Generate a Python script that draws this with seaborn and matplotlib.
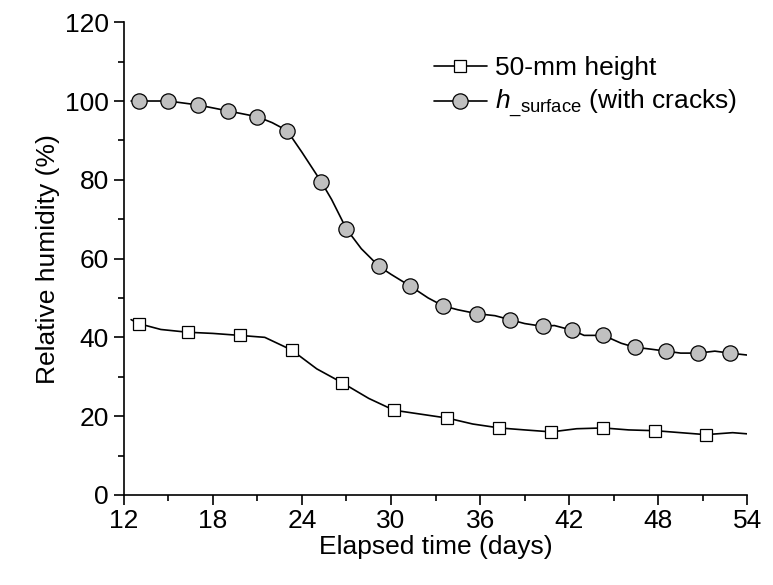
import matplotlib
matplotlib.use("Agg")
import matplotlib.pyplot as plt
import seaborn as sns
import pandas as pd

# ── Data ───────────────────────────────────────────────────────────────────────
sq_days = [12.5, 13, 14.5, 16.3, 18, 19.8, 21.5, 23.3, 25, 26.7, 28.5, 30.2, 32, 33.8,
           35.5, 37.3, 39, 40.8, 42.5, 44.3, 46, 47.8, 49.5, 51.2, 53, 54]
sq_rh = [44.5, 43.5, 42, 41.3, 41, 40.5, 40, 36.8, 32, 28.5, 24.5, 21.5, 20.5, 19.5,
         18, 17, 16.5, 16, 16.8, 17, 16.5, 16.3, 15.8, 15.3, 15.8, 15.5]
sq_mark_idx = [1, 3, 5, 7, 9, 11, 13, 15, 17, 19, 21, 23]

ci_days = [12.5, 13, 15, 17, 19, 21, 22, 23, 24, 25.3, 26, 27, 28, 29.2, 30, 31.3, 32.5,
           33.5, 34.5, 35.8, 37, 38, 39, 40.2, 41, 42.2, 43, 44.3, 45.5, 46.4, 47.5,
           48.5, 49.5, 50.7, 51.8, 52.8, 54]
ci_rh = [100, 100, 100, 99, 97.5, 96, 94.5, 92.5, 87, 79.5, 75, 67.5, 62.5, 58, 56,
         53, 50, 48, 47, 46, 45.5, 44.5, 43.5, 42.8, 43, 41.8, 40.5, 40.5, 38.5, 37.5,
         37, 36.5, 36, 36, 36.5, 36, 35.5]
ci_mark_idx = [1, 2, 3, 4, 5, 7, 9, 11, 13, 15, 17, 19, 21, 23, 25, 27, 29, 31, 33, 35]

x_ticks = [12, 18, 24, 30, 36, 42, 48, 54]
y_ticks = [0, 20, 40, 60, 80, 100, 120]

sns.set_theme(style="ticks")
plt.rcParams['font.family'] = ['Liberation Sans', 'DejaVu Sans']
plt.rcParams['mathtext.fontset'] = 'custom'
plt.rcParams['mathtext.it'] = 'Liberation Sans:italic'
plt.rcParams['mathtext.rm'] = 'Liberation Sans'
for k in ['text.color', 'axes.labelcolor', 'xtick.color', 'ytick.color', 'axes.edgecolor']:
    plt.rcParams[k] = 'black'

fig, ax = plt.subplots(figsize=(7.73, 5.85), dpi=100)
fig.subplots_adjust(left=0.16, right=0.967, top=0.962, bottom=0.154)

sq = pd.DataFrame({'day': sq_days, 'rh': sq_rh})
ci = pd.DataFrame({'day': ci_days, 'rh': ci_rh})

sns.lineplot(data=sq, x='day', y='rh', ax=ax, color='black', lw=1.2,
             marker='s', markevery=sq_mark_idx, markersize=9,
             markerfacecolor='white', markeredgecolor='black', markeredgewidth=0.9,
             label='50-mm height')
sns.lineplot(data=ci, x='day', y='rh', ax=ax, color='black', lw=1.2,
             marker='o', markevery=ci_mark_idx, markersize=11,
             markerfacecolor='#c0c0c0', markeredgecolor='black', markeredgewidth=0.9,
             label=r'$h$$_{\_\mathrm{surface}}$ (with cracks)')

ax.set_xlim(12, 54)
ax.set_ylim(0, 120)
ax.set_xticks(x_ticks)
ax.set_yticks(y_ticks)
ax.set_xticks(range(15, 54, 6), minor=True)
ax.set_yticks(range(10, 120, 20), minor=True)
ax.tick_params(which='major', direction='out', length=7, width=1.2, labelsize=19)
ax.tick_params(which='minor', direction='out', length=4, width=1.2)
for s in ['left', 'bottom']:
    ax.spines[s].set_linewidth(1.2)
sns.despine(ax=ax)
ax.set_xlabel('Elapsed time (days)', fontsize=19, labelpad=1)
ax.set_ylabel('Relative humidity (%)', fontsize=19)
ax.legend(loc='upper right', frameon=False, fontsize=19, handlelength=2.0,
          handletextpad=0.3, borderaxespad=0.0, labelspacing=0.3,
          bbox_to_anchor=(1.0, 0.95))

fig.savefig('out.png', dpi=100)
